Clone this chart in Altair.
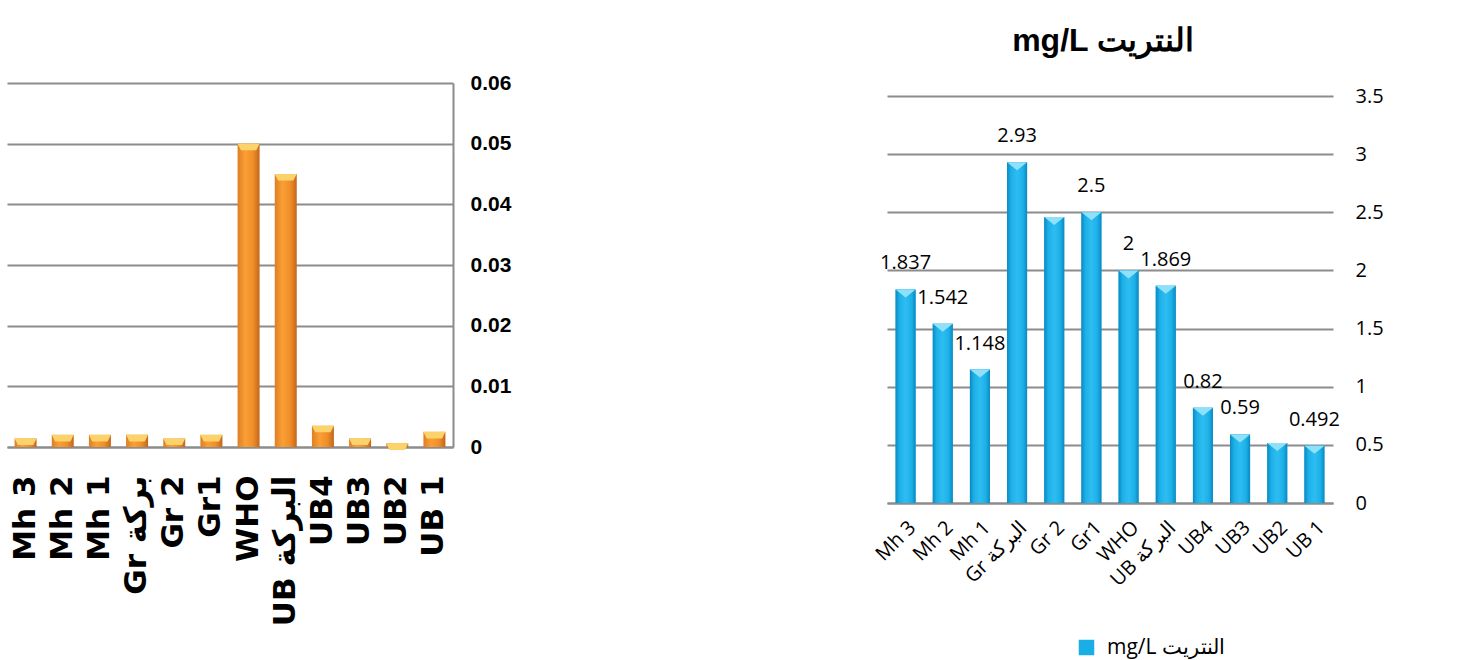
import altair as alt
import pandas as pd

# ---------------- data ----------------
left_cats = ["Mh 3", "Mh 2", "Mh 1", "Gr بركة", "Gr 2", "Gr1", "WHO",
             "UB البركة", "UB4", "UB3", "UB2", "UB 1"]
left_vals = [0.0014, 0.002, 0.002, 0.002, 0.0014, 0.002, 0.05,
             0.045, 0.0035, 0.0014, 0.0006, 0.0025]
left_ticks = [0, 0.01, 0.02, 0.03, 0.04, 0.05, 0.06]

right_cats = ["Mh 3", "Mh 2", "Mh 1", "Gr البركة", "Gr 2", "Gr1", "WHO",
              "UB البركة", "UB4", "UB3", "UB2", "UB 1"]
right_vals = [1.837, 1.542, 1.148, 2.93, 2.46, 2.5, 2.0,
              1.869, 0.82, 0.59, 0.515, 0.492]
right_labels = ["1.837", "1.542", "1.148", "2.93", "", "2.5", "2",
                "1.869", "0.82", "0.59", "", "0.492"]
right_ticks = [0, 0.5, 1, 1.5, 2, 2.5, 3, 3.5]
series_name = "mg/L النتريت"
title_text = "mg/L النتريت"

left_df = pd.DataFrame({"cat": left_cats, "val": left_vals})
right_df = pd.DataFrame({"cat": right_cats, "val": right_vals,
                         "lbl": right_labels, "series": series_name})

GRID = "#8C8C8C"

# ---------------- left chart ----------------
lx = alt.X("cat:N", sort=left_cats, title=None,
           scale=alt.Scale(paddingInner=0.4, paddingOuter=0.2),
           axis=alt.Axis(labelAngle=-90, labelFont="DejaVu Sans",
                         labelFontWeight="bold", labelFontSize=31,
                         labelColor="black", labelPadding=28, ticks=False,
                         domainColor=GRID, domainWidth=2, labelLimit=400))
ly = alt.Y("val:Q", title=None,
           scale=alt.Scale(domain=[0, 0.06], nice=False),
           axis=alt.Axis(orient="right", values=left_ticks, format="~g",
                         grid=True, gridColor=GRID, gridWidth=2,
                         domain=True, domainColor=GRID, domainWidth=2,
                         ticks=False, labelPadding=17,
                         labelFont="Liberation Sans",
                         labelFontWeight="bold", labelFontSize=21,
                         labelColor="black"))

orange_grad = alt.Gradient(
    gradient="linear", x1=0, x2=1, y1=0, y2=0,
    stops=[alt.GradientStop(color="#E07E22", offset=0),
           alt.GradientStop(color="#FA9F35", offset=0.35),
           alt.GradientStop(color="#F08E28", offset=0.7),
           alt.GradientStop(color="#C4661B", offset=1)])

left_bars = alt.Chart(left_df).mark_bar(size=22, color=orange_grad).encode(
    x=lx, y=ly)
left_tops = alt.Chart(left_df).mark_point(
    shape="M-1,0L1,0L0.7,0.6L-0.7,0.6Z", filled=True, size=484,
    color="#FCD36A", opacity=1, strokeWidth=0).encode(x=lx, y=ly)

left = alt.layer(left_bars, left_tops).properties(width=446, height=364)

# ---------------- right chart ----------------
rx = alt.X("cat:N", sort=right_cats, title=None,
           scale=alt.Scale(paddingInner=0.45, paddingOuter=0.225),
           axis=alt.Axis(labelAngle=-45, labelFont="Open Sans",
                         labelFontSize=20, labelColor="black",
                         labelPadding=14, ticks=False,
                         domainColor=GRID, domainWidth=2, labelLimit=300))
ry = alt.Y("val:Q", title=None,
           scale=alt.Scale(domain=[0, 3.5], range=[420, 13], nice=False),
           axis=alt.Axis(orient="right", values=right_ticks, format="~g",
                         grid=True, gridColor=GRID, gridWidth=2,
                         domain=False, ticks=False, labelPadding=22,
                         labelFont="Open Sans", labelFontSize=20,
                         labelColor="black"))

blue_grad = alt.Gradient(
    gradient="linear", x1=0, x2=1, y1=0, y2=0,
    stops=[alt.GradientStop(color="#0B88C0", offset=0),
           alt.GradientStop(color="#1CB0E8", offset=0.2),
           alt.GradientStop(color="#2EBDF1", offset=0.5),
           alt.GradientStop(color="#1CB0E8", offset=0.8),
           alt.GradientStop(color="#0B88C0", offset=1)])

right_legend_bars = alt.Chart(right_df).mark_bar(size=20).encode(
    x=rx, y=ry,
    color=alt.Color("series:N",
                    scale=alt.Scale(range=["#1AAEE6"]),
                    legend=alt.Legend(title=None, orient="none",
                                      legendX=189, legendY=554,
                                      symbolType="square", symbolSize=240,
                                      symbolStrokeWidth=0, symbolOffset=0,
                                      labelOffset=10,
                                      labelFont="Open Sans", labelFontSize=21,
                                      labelColor="black", padding=0)))
right_bars = alt.Chart(right_df).mark_bar(size=20, color=blue_grad).encode(
    x=rx, y=ry)
right_tops = alt.Chart(right_df).mark_point(
    shape="M-1,0L1,0L0,0.8Z", filled=True, size=400,
    color="#8FE1FA", opacity=1, strokeWidth=0).encode(x=rx, y=ry)
right_text = alt.Chart(right_df).mark_text(
    baseline="middle", dy=-26, font="Open Sans", fontSize=20,
    color="black").encode(x=rx, y=ry, text="lbl:N")

right = alt.layer(right_legend_bars, right_bars, right_tops, right_text).properties(
    width=446, height=420,
    title=alt.TitleParams(title_text, font="Liberation Sans",
                          fontWeight="bold", fontSize=32, color="black",
                          anchor="middle", baseline="bottom", offset=-7,
                          dx=-7))

chart = alt.hconcat(left, right, spacing=434, bounds="flush").resolve_legend(
    color="independent").configure_view(strokeWidth=0).properties(
    padding={"left": 7, "top": 25, "right": 5, "bottom": 5},
    background="white")

chart.save("out.html", embed_options={"renderer": "svg", "actions": False})
